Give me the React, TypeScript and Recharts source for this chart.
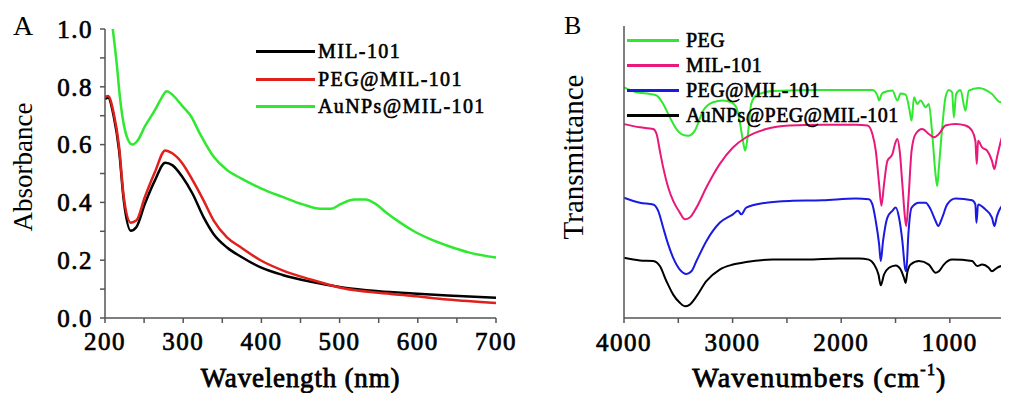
import { LineChart, Line, XAxis, YAxis, Legend } from 'recharts';

const serif = 'Liberation Serif';

// Panel A: UV-vis absorbance
const uvWavelength = [200, 204, 211, 218, 224, 233, 240, 251, 264, 277, 286, 299, 312, 326, 339, 356, 374, 400, 427, 462, 506, 550, 594, 638, 700];
const uvMil = [0.758, 0.762, 0.7, 0.58, 0.407, 0.302, 0.314, 0.395, 0.477, 0.537, 0.529, 0.488, 0.43, 0.349, 0.29, 0.244, 0.212, 0.174, 0.149, 0.126, 0.105, 0.093, 0.085, 0.078, 0.07];
const uvPegMil = [0.765, 0.768, 0.71, 0.593, 0.419, 0.33, 0.337, 0.419, 0.506, 0.58, 0.57, 0.535, 0.477, 0.407, 0.337, 0.279, 0.244, 0.198, 0.165, 0.134, 0.102, 0.087, 0.076, 0.064, 0.052];
const uvAuWavelength = [205, 210, 215, 219, 223, 228, 235, 242, 251, 264, 272, 279, 286, 299, 310, 321, 339, 356, 374, 400, 427, 453, 475, 489, 502, 519, 533, 546, 559, 577, 594, 616, 638, 665, 700];
const uvAuMil = [1.12, 1.0, 0.88, 0.766, 0.685, 0.627, 0.6, 0.615, 0.663, 0.72, 0.76, 0.785, 0.773, 0.733, 0.698, 0.64, 0.558, 0.512, 0.483, 0.448, 0.419, 0.393, 0.378, 0.378, 0.395, 0.41, 0.41, 0.395, 0.366, 0.331, 0.302, 0.273, 0.25, 0.227, 0.209];
const uvTicksX = [200, 250, 300, 350, 400, 450, 500, 550, 600, 650, 700];
const uvTicksY = [0, 0.1, 0.2, 0.3, 0.4, 0.5, 0.6, 0.7, 0.8, 0.9, 1.0];

// Panel B: FTIR transmittance (arbitrary, offset traces)
const irPegWn = [4000, 3884, 3761, 3700, 3639, 3578, 3517, 3456, 3410, 3349, 3272, 3180, 3089, 3012, 2966, 2936, 2905, 2884, 2859, 2829, 2783, 2630, 2202, 1713, 1670, 1651, 1630, 1606, 1529, 1483, 1453, 1407, 1376, 1352, 1330, 1300, 1269, 1223, 1193, 1162, 1132, 1116, 1101, 1070, 1040, 1009, 979, 963, 942, 902, 856, 826, 734, 612, 535, 489, 468, 400];
const irPeg = [79.0, 77.3, 76.7, 76.2, 73.3, 68.7, 64.7, 62.7, 62.4, 64.1, 71.0, 73.9, 74.5, 73.9, 72.2, 67.6, 60.7, 57.3, 63.0, 73.3, 76.2, 77.7, 78.1, 78.1, 76.5, 74.5, 76.5, 77.3, 77.9, 74.5, 76.9, 76.5, 72.2, 67.6, 75.6, 73.3, 74.5, 72.2, 73.3, 63.0, 49.3, 45.2, 51.5, 65.3, 75.6, 78.1, 77.3, 68.7, 76.7, 78.1, 71.0, 77.9, 78.8, 76.7, 73.9, 76.2, 77.9, 79.0];
const irMilWn = [4000, 3853, 3731, 3700, 3670, 3639, 3593, 3547, 3486, 3440, 3394, 3333, 3242, 3119, 2997, 2875, 2691, 2477, 2171, 1865, 1758, 1713, 1682, 1651, 1630, 1606, 1575, 1529, 1505, 1483, 1462, 1437, 1413, 1401, 1382, 1352, 1315, 1254, 1193, 1147, 1101, 1040, 948, 856, 795, 765, 752, 740, 703, 657, 612, 590, 566, 520, 468, 400];
const irMil = [66.4, 65.3, 64.7, 63.0, 57.3, 51.5, 44.7, 40.1, 36.1, 33.8, 34.4, 37.8, 44.7, 52.7, 58.4, 61.9, 64.7, 65.9, 66.2, 66.2, 65.9, 63.0, 57.3, 45.8, 38.4, 45.8, 53.8, 56.1, 59.6, 61.3, 57.3, 45.8, 34.4, 31.5, 40.1, 57.3, 63.0, 64.7, 63.0, 61.9, 63.0, 65.9, 66.4, 65.9, 64.1, 60.7, 52.7, 60.7, 58.4, 57.3, 53.8, 51.0, 55.0, 61.9, 64.7, 66.0];
const irPegMilWn = [4000, 3853, 3731, 3685, 3639, 3593, 3547, 3486, 3425, 3379, 3333, 3242, 3119, 2997, 2951, 2920, 2875, 2691, 2477, 2171, 1865, 1746, 1713, 1682, 1651, 1636, 1615, 1575, 1529, 1498, 1468, 1437, 1413, 1401, 1382, 1352, 1284, 1223, 1177, 1131, 1107, 1070, 1024, 948, 795, 765, 755, 740, 673, 612, 590, 566, 520, 468, 400];
const irPegMil = [41.2, 39.5, 38.9, 36.7, 30.9, 25.2, 20.6, 16.6, 15.1, 16.0, 19.5, 26.3, 32.6, 35.5, 36.7, 35.5, 37.8, 39.5, 40.1, 40.3, 40.9, 40.7, 38.9, 33.2, 25.2, 19.5, 26.3, 34.4, 36.7, 37.8, 34.4, 26.3, 17.2, 16.0, 28.6, 37.8, 39.5, 39.5, 37.2, 33.2, 31.5, 34.4, 38.9, 40.9, 40.3, 38.9, 32.6, 38.9, 37.2, 34.4, 31.5, 34.9, 38.4, 39.5, 40.0];
const irAuWn = [4000, 3853, 3731, 3670, 3609, 3547, 3486, 3440, 3394, 3333, 3242, 3119, 2997, 2875, 2630, 2324, 2018, 1835, 1746, 1697, 1657, 1636, 1606, 1560, 1498, 1453, 1422, 1407, 1392, 1361, 1284, 1193, 1131, 1101, 1055, 979, 795, 749, 703, 642, 612, 566, 468, 400];
const irAu = [20.6, 19.7, 19.5, 17.8, 12.6, 8.0, 5.2, 4.0, 4.6, 7.4, 12.6, 16.6, 18.3, 19.2, 20.0, 20.0, 20.4, 20.4, 20.0, 18.3, 14.9, 11.2, 14.9, 17.2, 18.0, 16.6, 13.7, 12.0, 15.5, 18.3, 19.5, 18.3, 15.5, 16.0, 18.3, 20.0, 19.5, 17.8, 18.3, 17.2, 16.0, 17.2, 18.3, 19.0];
const irTicksX = [4000, 3500, 3000, 2500, 2000, 1500, 1000, 500];

const toPoints = (xs: number[], ys: number[]) => xs.map((x, i) => ({ x, y: ys[i] }));

// no bold Liberation Serif face is installed, so a thin stroke fakes the heavy weight
const tickStyle = { fill: '#000', stroke: '#000', strokeWidth: 0.7, fontFamily: serif, fontSize: 25, letterSpacing: 1.5 };
const axisColor = '#555';

type LegendItem = { name: string; color: string };

function LegendBox({ items, lineWidth, gap, rowHeight, fontSize, spacing }: {
  items: LegendItem[]; lineWidth: number; gap: number; rowHeight: number; fontSize: number; spacing: number;
}) {
  return (
    <div style={{ fontFamily: serif, fontSize, letterSpacing: spacing, color: '#000', WebkitTextStroke: '0.6px #000' }}>
      {items.map((it) => (
        <div key={it.name} style={{ display: 'flex', alignItems: 'center', height: rowHeight, whiteSpace: 'nowrap' }}>
          <span style={{ display: 'inline-block', width: lineWidth, height: 3, background: it.color, marginRight: gap }} />
          <span>{it.name}</span>
        </div>
      ))}
    </div>
  );
}

const uvLegend: LegendItem[] = [
  { name: 'MIL-101', color: '#000000' },
  { name: 'PEG@MIL-101', color: '#e0201b' },
  { name: 'AuNPs@MIL-101', color: '#2fe82f' },
];
const irLegend: LegendItem[] = [
  { name: 'PEG', color: '#2fe82f' },
  { name: 'MIL-101', color: '#e8197a' },
  { name: 'PEG@MIL-101', color: '#1a1ae0' },
  { name: 'AuNPs@PEG@MIL-101', color: '#000000' },
];

function App() {
  return (
    <div style={{ position: 'relative', width: 1009, height: 401, margin: -8, overflow: 'hidden', background: '#fff' }}>
      <div style={{ position: 'absolute', left: 13, top: 10, fontFamily: serif, fontSize: 28 }}>A</div>
      <div style={{ position: 'absolute', left: 564, top: 11, fontFamily: serif, fontSize: 26 }}>B</div>

      <div style={{ position: 'absolute', left: 0, top: 0 }}>
        <LineChart width={540} height={401} margin={{ top: 29, right: 44, bottom: 43, left: 0 }}>
          <XAxis
            dataKey="x"
            type="number"
            domain={[200, 700]}
            ticks={uvTicksX}
            interval={0}
            allowDataOverflow
            tickFormatter={(v: number) => (v % 100 === 0 ? String(v) : '')}
            tick={tickStyle}
            tickSize={5}
            tickMargin={9}
            height={40}
            stroke={axisColor}
            strokeWidth={1.5}
            label={{
              content: ({ viewBox }: any) => (
                <text x={viewBox.x + viewBox.width / 2} y={viewBox.y + viewBox.height + 29} textAnchor="middle"
                  fontFamily={serif} fontSize={27} letterSpacing={0.8} stroke="#000" strokeWidth={0.8}>
                  Wavelength (nm)
                </text>
              ),
            }}
          />
          <XAxis xAxisId="top" orientation="top" type="number" domain={[200, 700]} height={0} tick={false} tickLine={false} stroke={axisColor} strokeWidth={1.5} />
          <YAxis
            type="number"
            domain={[0, 1]}
            ticks={uvTicksY}
            interval={0}
            allowDataOverflow
            tickFormatter={(v: number) => (Math.round(v * 10) % 2 === 0 ? v.toFixed(1) : '')}
            tick={tickStyle}
            tickSize={5}
            tickMargin={7}
            width={105}
            stroke={axisColor}
            strokeWidth={1.5}
            label={{
              content: () => (
                <text x={23} y={167} transform="rotate(-90, 23, 167)" textAnchor="middle" dominantBaseline="central"
                  fontFamily={serif} fontSize={27}>
                  Absorbance
                </text>
              ),
            }}
          />
          <YAxis yAxisId="right" orientation="right" type="number" domain={[0, 1]} width={0} tick={false} tickLine={false} stroke={axisColor} strokeWidth={1.5} />
          <Legend
            layout="vertical"
            verticalAlign="middle"
            align="center"
            wrapperStyle={{ top: 38, left: 256, width: 'auto' }}
            content={() => <LegendBox items={uvLegend} lineWidth={59} gap={3} rowHeight={27.5} fontSize={20} spacing={1.4} />}
          />
          <Line data={toPoints(uvWavelength, uvMil)} dataKey="y" type="monotone" stroke="#000000" strokeWidth={2.5} dot={false} isAnimationActive={false} />
          <Line data={toPoints(uvWavelength, uvPegMil)} dataKey="y" type="monotone" stroke="#e0201b" strokeWidth={2.5} dot={false} isAnimationActive={false} />
          <Line data={toPoints(uvAuWavelength, uvAuMil)} dataKey="y" type="monotone" stroke="#2fe82f" strokeWidth={2.5} dot={false} isAnimationActive={false} />
        </LineChart>
      </div>

      <div style={{ position: 'absolute', left: 540, top: 0 }}>
        <LineChart width={500} height={401} margin={{ top: 26, right: 25, bottom: 43, left: 0 }}>
          <XAxis
            dataKey="x"
            type="number"
            domain={[400, 4000]}
            reversed
            ticks={irTicksX}
            interval={0}
            tickFormatter={(v: number) => (v % 1000 === 0 ? String(v) : '')}
            tick={tickStyle}
            tickSize={5}
            tickMargin={10}
            height={40}
            stroke={axisColor}
            strokeWidth={1.5}
            label={{
              content: ({ viewBox }: any) => {
                const cx = viewBox.x + viewBox.width / 2;
                const y = viewBox.y + viewBox.height + 29;
                return (
                  <text x={cx} y={y} textAnchor="middle" fontFamily={serif} fontSize={28} letterSpacing={1.2} stroke="#000" strokeWidth={0.8}>
                    Wavenumbers (cm<tspan fontSize={16} dy={-12}>-1</tspan><tspan dy={12}>)</tspan>
                  </text>
                );
              },
            }}
          />
          <XAxis xAxisId="top" orientation="top" type="number" domain={[400, 4000]} reversed height={0} tick={false} tickLine={false} stroke={axisColor} strokeWidth={1.5} />
          <YAxis
            type="number"
            domain={[0, 100]}
            tick={false}
            tickLine={false}
            width={84}
            stroke={axisColor}
            strokeWidth={1.5}
            label={{
              content: () => (
                <text x={33} y={157} transform="rotate(-90, 33, 157)" textAnchor="middle" dominantBaseline="central"
                  fontFamily={serif} fontSize={29}>
                  Transmittance
                </text>
              ),
            }}
          />
          <YAxis yAxisId="right" orientation="right" type="number" domain={[0, 100]} width={0} tick={false} tickLine={false} stroke={axisColor} strokeWidth={1.5} />
          <Line data={toPoints(irPegWn, irPeg)} dataKey="y" type="monotone" stroke="#2fe82f" strokeWidth={2} dot={false} isAnimationActive={false} />
          <Line data={toPoints(irMilWn, irMil)} dataKey="y" type="monotone" stroke="#e8197a" strokeWidth={2} dot={false} isAnimationActive={false} />
          <Line data={toPoints(irPegMilWn, irPegMil)} dataKey="y" type="monotone" stroke="#1a1ae0" strokeWidth={2} dot={false} isAnimationActive={false} />
          <Line data={toPoints(irAuWn, irAu)} dataKey="y" type="monotone" stroke="#000000" strokeWidth={2} dot={false} isAnimationActive={false} />
          <Legend
            layout="vertical"
            verticalAlign="middle"
            align="center"
            wrapperStyle={{ top: 28, left: 87, width: 'auto' }}
            content={() => <LegendBox items={irLegend} lineWidth={52} gap={7} rowHeight={25} fontSize={20} spacing={0.4} />}
          />
        </LineChart>
      </div>
    </div>
  );
}

export default App;
